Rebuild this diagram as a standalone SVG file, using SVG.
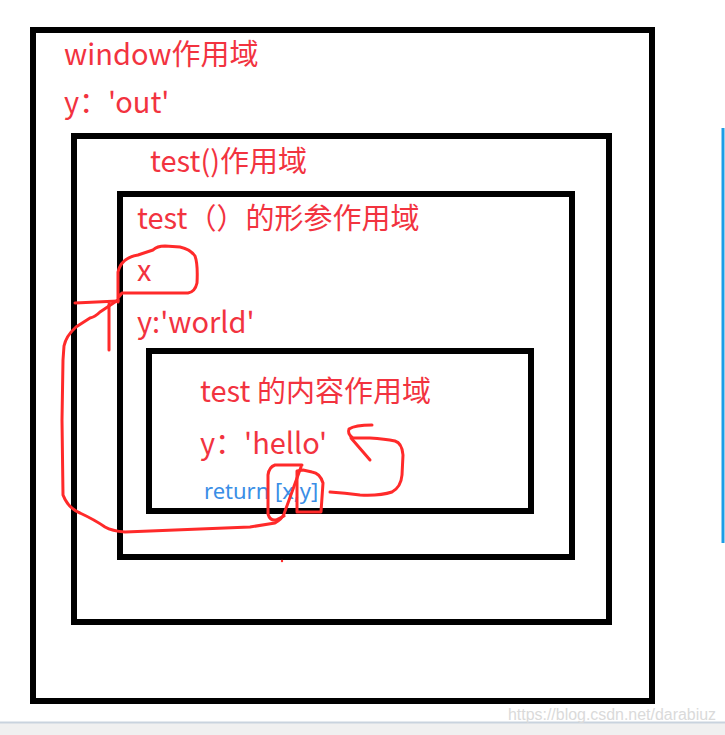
<svg xmlns="http://www.w3.org/2000/svg" width="725" height="735" viewBox="0 0 725 735">
<style>
.box{fill:none;stroke:#000;stroke-width:6}
.t{font-family:"Noto Sans CJK SC","Noto Sans",sans-serif;font-size:29px;fill:#f2333f}
.ret{font-family:"Noto Sans","Noto Sans CJK SC",sans-serif;font-size:22px;fill:#3a8ee6}
.ink{fill:none;stroke:#ff2a2a;stroke-width:3;stroke-linecap:round;stroke-linejoin:round}
.wm{font-family:"Liberation Sans",Arial,sans-serif;font-size:16px;fill:#dadada}
</style>
<rect width="725" height="735" fill="#fff"/>
<g id="chrome">
<rect x="0" y="723" width="725" height="12" fill="#f0f0f0"/>
<line x1="0" y1="722.5" x2="725" y2="722.5" stroke="#c9d3de" stroke-width="2"/>
<line x1="723" y1="128" x2="723" y2="543" stroke="#1e9de6" stroke-width="3"/>
<text class="wm" x="508" y="720" textLength="208" lengthAdjust="spacingAndGlyphs">https://blog.csdn.net/darabiuz</text>
</g>
<g id="window-scope">
<rect class="box" x="33" y="30" width="619" height="671"/>
<text class="t" x="64" y="65">window作用域</text>
<text class="t" x="64" y="113">y：'out'</text>
</g>
<g id="test-scope">
<rect class="box" x="74" y="136" width="535" height="486"/>
<text class="t" x="150" y="172">test()作用域</text>
</g>
<g id="param-scope">
<rect class="box" x="120" y="194" width="452" height="363"/>
<text class="t" x="137" y="229">test（）的形参作用域</text>
<text class="t" x="137" y="281">x</text>
<text class="t" x="137" y="333">y:'world'</text>
</g>
<g id="body-scope">
<rect class="box" x="149" y="351" width="382" height="160"/>
<text class="t" x="200" y="402">test 的内容作用域</text>
<text class="t" x="200" y="454">y：'hello'</text>
<text class="ret" x="204" y="499">return [x,y]</text>
</g>
<g id="connectors">
<path class="ink" d="M118 302 L118 272 Q121 258 138 255 L153 250 Q157 246 165 246 L180 247 Q190 249 195 256 Q198 264 197 283 Q195 292 188 293 L122 293 L118 298"/>
<path class="ink" d="M75 303 L118 301"/>
<path class="ink" d="M109 304 L109 350"/>
<path class="ink" d="M118 300 L100 312 Q95 317 90 318 L76 327 Q66 336 64 346 L63 360 L62 420 L63 495 Q68 508 80 513 Q95 520 105 527 Q112 531 125 532 L250 527 L275 523 Q282 519 284 514 L301 467"/>
<path class="ink" d="M302 465 L275 465 Q269 467 268 475 L268 514 Q270 521 276 520 L284 516"/>
<path class="ink" d="M303 470 L297 471 L297 512 L321 512 L323 483 Q320 473 312 472 L303 470"/>
<path class="ink" d="M330 492 Q345 493 360 495 Q380 496 392 492 Q401 487 402 475 L403 455 Q402 443 395 441 Q385 439 370 438 L353 438 Q347 434 349 429 Q355 425 372 425"/>
<path class="ink" d="M351 438 L370 460"/>
<circle cx="282" cy="561" r="1.2" fill="#ff2a2a"/>
</g>
</svg>
